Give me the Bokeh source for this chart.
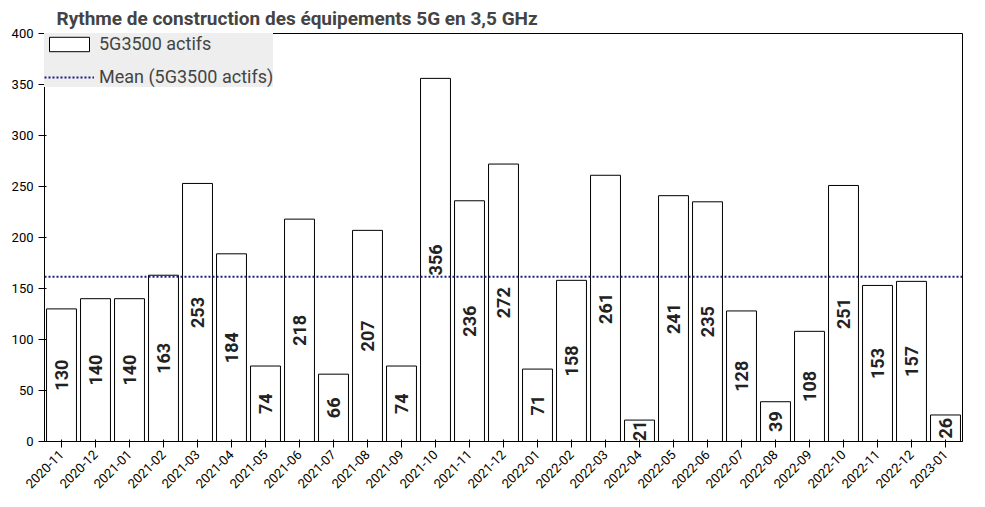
from bokeh.plotting import figure
from bokeh.models import ColumnDataSource, Range1d, Legend, LegendItem, Span, FixedTicker
from bokeh.embed import file_html
from bokeh.resources import INLINE
from bokeh.core.properties import value
import math

months = ["2020-11","2020-12","2021-01","2021-02","2021-03","2021-04","2021-05","2021-06","2021-07","2021-08","2021-09","2021-10","2021-11","2021-12","2022-01","2022-02","2022-03","2022-04","2022-05","2022-06","2022-07","2022-08","2022-09","2022-10","2022-11","2022-12","2023-01"]
actifs = [130,140,140,163,253,184,74,218,66,207,74,356,236,272,71,158,261,21,241,235,128,39,108,251,153,157,26]
mean_val = sum(actifs)/len(actifs)

src = ColumnDataSource(dict(x=months, top=actifs, mid=[v/2 for v in actifs], lab=[str(v) for v in actifs]))

p = figure(x_range=months, y_range=Range1d(0, 400), width=970, height=495,
           output_backend="svg", toolbar_location=None,
           title="Rythme de construction des équipements 5G en 3,5 GHz")
p.x_range.range_padding = 0.0
p.title.text_font = "Roboto"; p.title.text_font_size = "19px"; p.title.text_font_style = "bold"
p.title.offset = 12; p.title.standoff = 8
p.outline_line_color = "black"
p.xgrid.visible = False; p.ygrid.visible = False
p.min_border_left = 44; p.min_border_right = 8; p.min_border_top = 10

bars = p.vbar(x="x", top="top", width=0.88, source=src, fill_color="white", line_color="black")
p.text(x="x", y="mid", text="lab", source=src, angle=math.pi/2, text_align="center",
       text_baseline="middle", text_font=value("Roboto"), text_font_size="18px",
       text_font_style="bold", text_color="#222222")
p.add_layout(Span(location=mean_val, dimension="width", line_color="#1a1a80", line_dash="2 2", line_width=2))
ml2 = p.line(x=[months[0]], y=[mean_val], line_color="#1a1a80", line_dash="2 2", line_width=2)

p.yaxis.ticker = FixedTicker(ticks=list(range(0, 401, 50)))
p.yaxis.major_label_text_font = "Roboto"; p.yaxis.major_label_text_font_size = "13px"
p.yaxis.major_label_text_color = "black"
p.xaxis.major_label_orientation = math.pi/4
p.xaxis.major_label_text_font = "Roboto"; p.xaxis.major_label_text_font_size = "13px"
p.xaxis.major_label_text_color = "black"
p.yaxis.minor_tick_line_color = None

legend = Legend(items=[LegendItem(label="5G3500 actifs", renderers=[bars]),
                       LegendItem(label="Mean (5G3500 actifs)", renderers=[ml2])],
                location="top_left", background_fill_color="#eeeeee", background_fill_alpha=1,
                border_line_color=None, label_text_font="Roboto", label_text_font_size="18px",
                glyph_width=50, glyph_height=18, margin=0, padding=18, spacing=12)
p.add_layout(legend)

open("out.html", "w").write(file_html(p, INLINE))
